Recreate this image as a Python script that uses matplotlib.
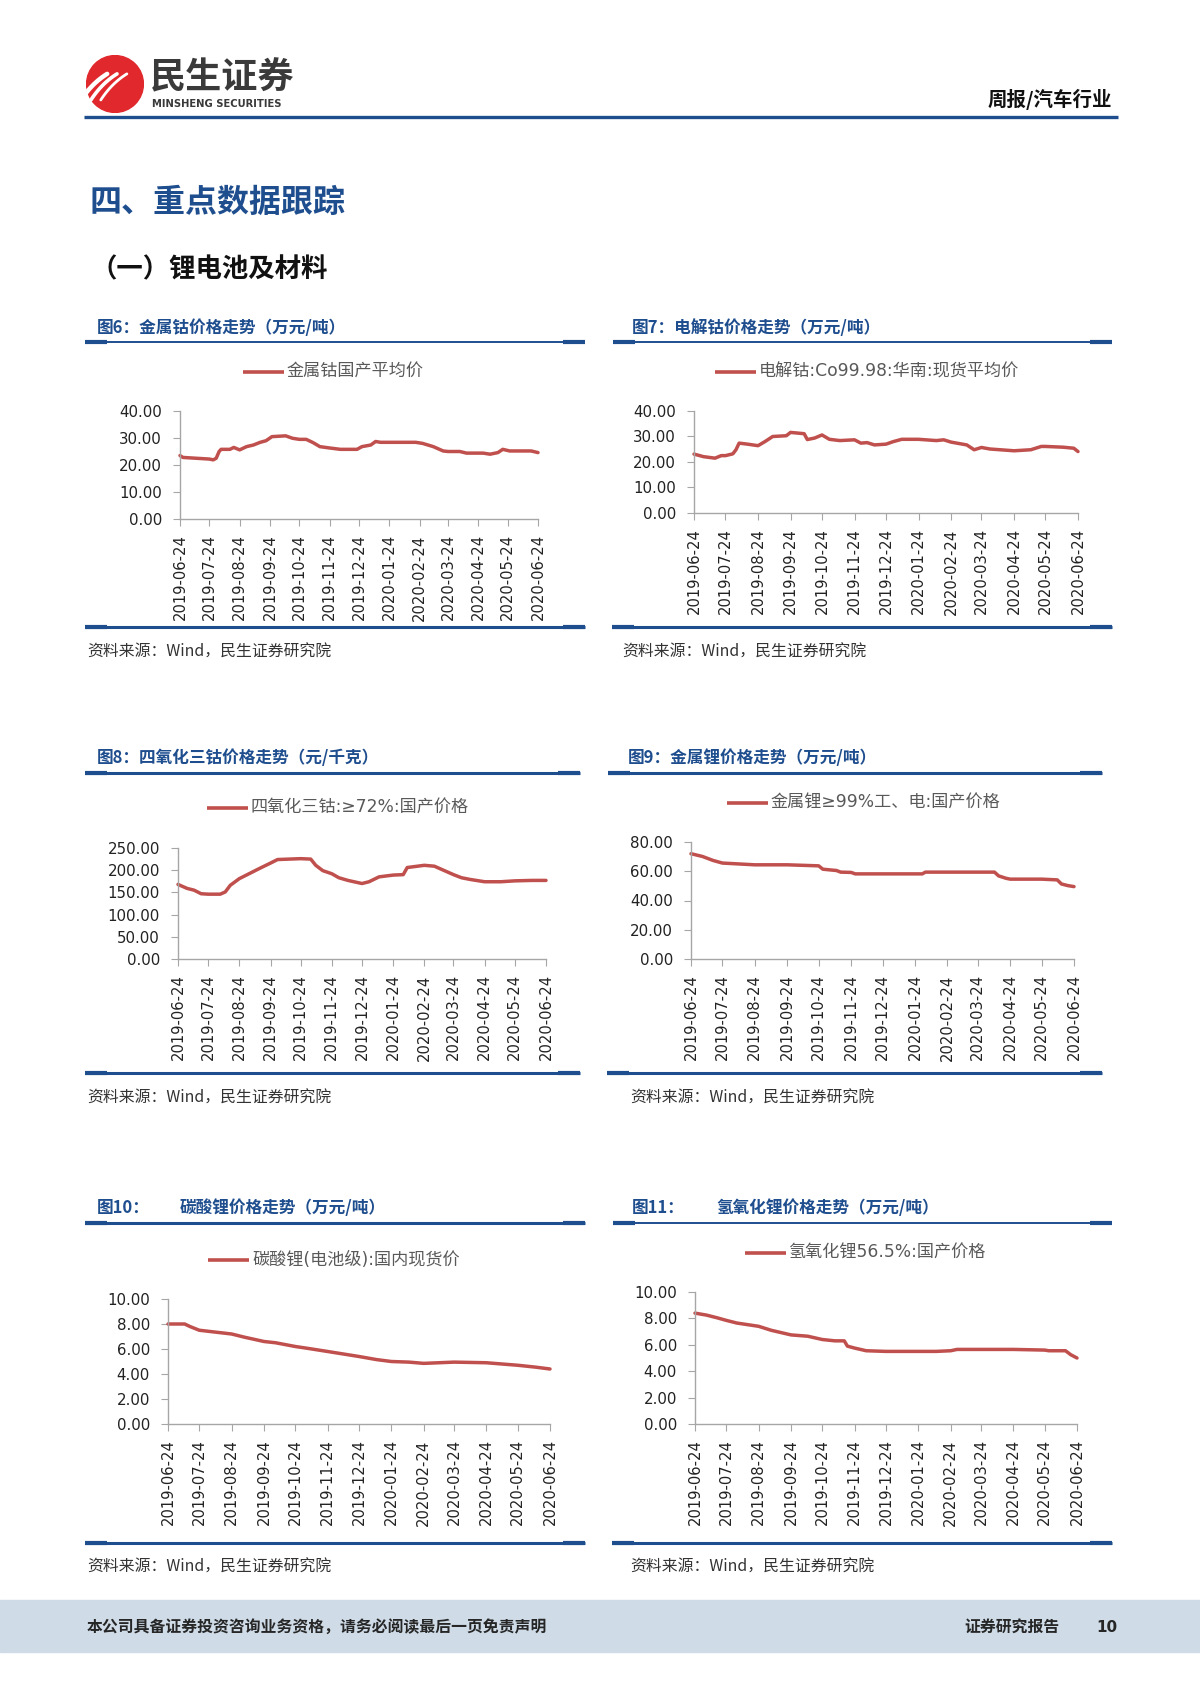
import numpy as np
import pandas as pd
import matplotlib
matplotlib.use('Agg')
import matplotlib.pyplot as plt
from matplotlib.lines import Line2D
from matplotlib.patches import Circle, Rectangle
from matplotlib.ticker import FormatStrFormatter

plt.rcParams['font.family'] = ['Noto Sans CJK SC', 'DejaVu Sans']

# ---------------- 数据 ----------------
tick_dates = pd.date_range('2019-06-24', periods=13, freq=pd.DateOffset(months=1))

# 图6 金属钴国产平均价（万元/吨）
co_metal_dates = ['2019-06-24', '2019-06-27', '2019-07-24', '2019-07-28', '2019-07-31', '2019-08-03',
                  '2019-08-05', '2019-08-14', '2019-08-18', '2019-08-24', '2019-08-31', '2019-09-07',
                  '2019-09-14', '2019-09-20', '2019-09-26', '2019-10-10', '2019-10-17', '2019-10-24',
                  '2019-10-31', '2019-11-07', '2019-11-14', '2019-11-24', '2019-12-05', '2019-12-22',
                  '2019-12-27', '2020-01-05', '2020-01-10', '2020-01-15', '2020-02-20', '2020-02-27',
                  '2020-03-09', '2020-03-19', '2020-03-24', '2020-04-05', '2020-04-12', '2020-04-29',
                  '2020-05-06', '2020-05-14', '2020-05-19', '2020-05-26', '2020-06-17', '2020-06-24']
co_metal_vals = [23.5, 22.8, 22.2, 21.9, 22.5, 25.0, 25.8, 25.8, 26.5, 25.6, 26.8, 27.4,
                 28.4, 29.0, 30.5, 30.8, 29.9, 29.5, 29.5, 28.3, 26.8, 26.3, 25.8, 25.8,
                 26.8, 27.4, 28.7, 28.4, 28.4, 28.0, 26.8, 25.2, 25.0, 25.0, 24.4, 24.4,
                 24.0, 24.6, 25.8, 25.2, 25.2, 24.6]

# 图7 电解钴:Co99.98:华南:现货平均价（万元/吨）
co_elec_dates = ['2019-06-24', '2019-07-03', '2019-07-14', '2019-07-20', '2019-07-24', '2019-07-31',
                 '2019-08-03', '2019-08-06', '2019-08-14', '2019-08-24', '2019-08-31', '2019-09-07',
                 '2019-09-20', '2019-09-24', '2019-10-07', '2019-10-10', '2019-10-17', '2019-10-24',
                 '2019-10-31', '2019-11-10', '2019-11-24', '2019-11-30', '2019-12-06', '2019-12-13',
                 '2019-12-24', '2019-12-31', '2020-01-08', '2020-01-24', '2020-02-10', '2020-02-17',
                 '2020-02-24', '2020-03-10', '2020-03-17', '2020-03-24', '2020-04-01', '2020-04-24',
                 '2020-05-10', '2020-05-20', '2020-05-24', '2020-06-10', '2020-06-20', '2020-06-24']
co_elec_vals = [23.1, 22.1, 21.5, 22.5, 22.5, 23.2, 24.8, 27.4, 27.0, 26.4, 28.1, 30.0,
                30.3, 31.6, 31.1, 28.8, 29.4, 30.6, 28.9, 28.4, 28.7, 27.4, 27.6, 26.7,
                27.0, 28.0, 28.9, 28.9, 28.4, 28.7, 27.8, 26.7, 24.8, 25.7, 25.1, 24.4,
                24.8, 26.1, 26.1, 25.8, 25.4, 24.1]

# 图8 四氧化三钴:≥72%:国产价格（元/千克）
co3o4_dates = ['2019-06-24', '2019-07-03', '2019-07-10', '2019-07-17', '2019-07-24', '2019-08-05',
               '2019-08-10', '2019-08-15', '2019-08-24', '2019-08-31', '2019-09-07', '2019-09-14',
               '2019-09-24', '2019-10-01', '2019-10-24', '2019-11-03', '2019-11-08', '2019-11-15',
               '2019-11-24', '2019-12-01', '2019-12-10', '2019-12-24', '2019-12-31', '2020-01-10',
               '2020-01-24', '2020-02-03', '2020-02-07', '2020-02-24', '2020-03-05', '2020-03-15',
               '2020-03-24', '2020-04-01', '2020-04-10', '2020-04-24', '2020-05-10', '2020-05-24',
               '2020-06-10', '2020-06-24']
co3o4_vals = [168, 159, 155, 147, 146, 146, 151, 166, 181, 189, 197, 205,
              216, 224, 226, 225, 211, 199, 192, 183, 177, 170, 174, 185,
              189, 190, 206, 211, 209, 199, 190, 183, 179, 174, 174, 176,
              177, 177]

# 图9 金属锂≥99%工、电:国产价格（万元/吨）
li_metal_dates = ['2019-06-24', '2019-07-05', '2019-07-15', '2019-07-24', '2019-08-24', '2019-09-24',
                  '2019-10-24', '2019-10-28', '2019-11-10', '2019-11-14', '2019-11-24', '2019-11-28',
                  '2019-12-24', '2020-01-31', '2020-02-03', '2020-03-24', '2020-04-09', '2020-04-13',
                  '2020-04-20', '2020-04-24', '2020-05-24', '2020-06-08', '2020-06-12', '2020-06-18',
                  '2020-06-24']
li_metal_vals = [72.0, 70.1, 67.4, 65.6, 64.4, 64.4, 63.7, 61.4, 60.5, 59.4, 59.2, 58.2,
                 58.2, 58.2, 59.4, 59.4, 59.4, 56.8, 55.2, 54.6, 54.6, 54.1, 51.3, 50.2,
                 49.5]

# 图10 碳酸锂(电池级):国内现货价（万元/吨）
li2co3_dates = ['2019-06-24', '2019-07-10', '2019-07-15', '2019-07-24', '2019-08-24', '2019-09-05',
                '2019-09-24', '2019-10-05', '2019-10-24', '2019-11-05', '2019-11-24', '2019-12-24',
                '2020-01-10', '2020-01-24', '2020-02-10', '2020-02-24', '2020-03-24', '2020-04-24',
                '2020-05-24', '2020-06-10', '2020-06-24']
li2co3_vals = [8.0, 8.0, 7.8, 7.5, 7.2, 6.95, 6.6, 6.5, 6.2, 6.05, 5.8, 5.4,
               5.15, 5.0, 4.95, 4.85, 4.95, 4.9, 4.7, 4.55, 4.4]

# 图11 氢氧化锂56.5%:国产价格（万元/吨）
lioh_dates = ['2019-06-24', '2019-07-05', '2019-07-15', '2019-07-24', '2019-08-03', '2019-08-24',
              '2019-09-05', '2019-09-24', '2019-10-10', '2019-10-24', '2019-11-05', '2019-11-14',
              '2019-11-17', '2019-11-24', '2019-12-05', '2019-12-24', '2020-01-24', '2020-02-10',
              '2020-02-24', '2020-03-01', '2020-03-24', '2020-04-24', '2020-05-24', '2020-05-28',
              '2020-06-13', '2020-06-18', '2020-06-24']
lioh_vals = [8.4, 8.25, 8.05, 7.85, 7.65, 7.4, 7.1, 6.75, 6.65, 6.4, 6.3, 6.3,
             5.9, 5.75, 5.55, 5.5, 5.5, 5.5, 5.55, 5.65, 5.65, 5.65, 5.6, 5.55,
             5.55, 5.25, 5.0]

# ---------------- 画布 ----------------
W, H = 1200, 1698
RED = '#c0504d'
BLUE = '#1f4e8f'
GRAY = '#a6a6a6'

fig = plt.figure(figsize=(W / 100, H / 100), dpi=100)
fig.patch.set_facecolor('white')


def box(x0, y0, x1, y1):
    return [x0 / W, 1 - y1 / H, (x1 - x0) / W, (y1 - y0) / H]


def ftxt(x, y, s, **kw):
    kw.setdefault('va', 'center')
    fig.text(x / W, 1 - y / H, s, **kw)


def hline(x0, x1, y, lw, color):
    fig.add_artist(Line2D([x0 / W, x1 / W], [1 - y / H, 1 - y / H], lw=lw, color=color,
                          transform=fig.transFigure, solid_capstyle='butt'))


def frame_line(x0, x1, y, lw):
    hline(x0, x1, y, lw, BLUE)
    hline(x0, x0 + 22, y, 3.0, BLUE)
    hline(x1 - 22, x1, y, 3.0, BLUE)


def chart(axbox, dates, vals, ymax, ystep):
    ax = fig.add_axes(box(*axbox))
    ax.patch.set_alpha(0)
    ax.plot(pd.to_datetime(dates), vals, color=RED, lw=2.5, clip_on=False,
            solid_joinstyle='round', solid_capstyle='round')
    ax.set_xlim(tick_dates[0], tick_dates[-1])
    ax.set_ylim(0, ymax)
    ax.set_yticks(np.arange(0, ymax + ystep / 2, ystep))
    ax.yaxis.set_major_formatter(FormatStrFormatter('%.2f'))
    ax.set_xticks(tick_dates)
    ax.set_xticklabels([d.strftime('%Y-%m-%d') for d in tick_dates], rotation=90,
                       family='DejaVu Sans', fontsize=10.6)
    for lab in ax.get_yticklabels():
        lab.set_family('DejaVu Sans')
    for s in ['top', 'right']:
        ax.spines[s].set_visible(False)
    for s in ['left', 'bottom']:
        ax.spines[s].set_color(GRAY)
        ax.spines[s].set_linewidth(1.0)
    ax.tick_params(direction='out', length=5, color=GRAY, labelcolor='#222222')
    ax.tick_params(axis='y', pad=8, labelsize=10.8)
    ax.tick_params(axis='x', pad=6)
    return ax


def legend(x0, x1, y, label):
    hline(x0, x1, y, 2.6, RED)
    ftxt(x1 + 3, y, label, fontsize=12.3, color='#595959',
         family=['DejaVu Sans', 'Noto Sans CJK SC'])


# ---------------- 页眉 ----------------
lax = fig.add_axes(box(86, 55, 144, 113))
lax.set_xlim(-1, 1)
lax.set_ylim(-1, 1)
lax.set_aspect('equal')
lax.axis('off')
lax.add_patch(Circle((0, 0), 0.98, color='#e0282d'))
for k, off in enumerate([-0.42, -0.08, 0.26]):
    t = np.linspace(0, 1, 20)
    xs = -0.75 + off + 0.75 * t + 0.15 * t ** 2
    ys = -0.55 + 1.15 * t - 0.25 * t ** 2
    lax.plot(xs, ys, color='white', lw=3.2 - 0.6 * k, solid_capstyle='round')

ftxt(150, 78, '民生证券', fontsize=26, weight='bold', color='#3a3a3a')
ftxt(152, 104, 'MINSHENG SECURITIES', fontsize=7.2, weight='bold', color='#3a3a3a',
     family='DejaVu Sans')
ftxt(1112, 99, '周报/汽车行业', fontsize=14, weight='bold', color='#111111', ha='right')
hline(84, 1118, 117, 2.4, BLUE)

ftxt(89, 203, '四、重点数据跟踪', fontsize=23, weight='bold', color=BLUE)
ftxt(90, 270, '（一）锂电池及材料', fontsize=19, weight='bold', color='#111111')

SRC = '资料来源：Wind，民生证券研究院'

# ---------------- 图6 ----------------
ftxt(97, 328, '图6：金属钴价格走势（万元/吨）', fontsize=12, weight='bold', color=BLUE)
frame_line(85, 585, 342, 1.4)
legend(243, 284, 372, '金属钴国产平均价')
chart((180, 411, 538, 519), co_metal_dates, co_metal_vals, 40, 10)
frame_line(85, 585, 627, 2.2)
ftxt(87, 652, SRC, fontsize=11.4, color='#333333')

# ---------------- 图7 ----------------
ftxt(632, 328, '图7：电解钴价格走势（万元/吨）', fontsize=12, weight='bold', color=BLUE)
frame_line(613, 1112, 342, 1.4)
legend(715, 756, 372, '电解钴:Co99.98:华南:现货平均价')
chart((694, 411, 1078, 513), co_elec_dates, co_elec_vals, 40, 10)
frame_line(612, 1112, 627, 2.2)
ftxt(622, 652, SRC, fontsize=11.4, color='#333333')

# ---------------- 图8 ----------------
ftxt(97, 758, '图8：四氧化三钴价格走势（元/千克）', fontsize=12, weight='bold', color=BLUE)
frame_line(85, 580, 773, 2.2)
legend(207, 248, 808, '四氧化三钴:≥72%:国产价格')
chart((178, 848, 546, 959), co3o4_dates, co3o4_vals, 250, 50)
frame_line(85, 580, 1073, 2.2)
ftxt(87, 1098, SRC, fontsize=11.4, color='#333333')

# ---------------- 图9 ----------------
ftxt(628, 758, '图9：金属锂价格走势（万元/吨）', fontsize=12, weight='bold', color=BLUE)
frame_line(608, 1102, 773, 2.2)
legend(727, 768, 803, '金属锂≥99%工、电:国产价格')
chart((691, 842, 1074, 959), li_metal_dates, li_metal_vals, 80, 20)
frame_line(607, 1102, 1073, 2.2)
ftxt(630, 1098, SRC, fontsize=11.4, color='#333333')

# ---------------- 图10 ----------------
ftxt(97, 1208, '图10：', fontsize=12, weight='bold', color=BLUE)
ftxt(180, 1208, '碳酸锂价格走势（万元/吨）', fontsize=12, weight='bold', color=BLUE)
frame_line(85, 585, 1223, 2.2)
legend(208, 249, 1260, '碳酸锂(电池级):国内现货价')
chart((168, 1299, 550, 1424), li2co3_dates, li2co3_vals, 10, 2)
frame_line(85, 585, 1543, 2.2)
ftxt(87, 1567, SRC, fontsize=11.4, color='#333333')

# ---------------- 图11 ----------------
ftxt(632, 1208, '图11：', fontsize=12, weight='bold', color=BLUE)
ftxt(716, 1208, '氢氧化锂价格走势（万元/吨）', fontsize=12, weight='bold', color=BLUE)
frame_line(613, 1112, 1223, 1.4)
legend(745, 786, 1253, '氢氧化锂56.5%:国产价格')
chart((695, 1292, 1077, 1424), lioh_dates, lioh_vals, 10, 2)
frame_line(612, 1112, 1543, 2.2)
ftxt(630, 1567, SRC, fontsize=11.4, color='#333333')

# ---------------- 页脚 ----------------
fig.add_artist(Rectangle((0, 1 - 1652 / H), 1, 52 / H, transform=fig.transFigure,
                         color='#cfdce8', zorder=0))
ftxt(87, 1627, '本公司具备证券投资咨询业务资格，请务必阅读最后一页免责声明', fontsize=11.4,
     weight='bold', color='#262626')
ftxt(964, 1627, '证券研究报告', fontsize=11.4, weight='bold', color='#262626')
ftxt(1096, 1627, '10', fontsize=11, weight='bold', color='#262626', family='DejaVu Sans')

fig.savefig('out.png', dpi=100)
